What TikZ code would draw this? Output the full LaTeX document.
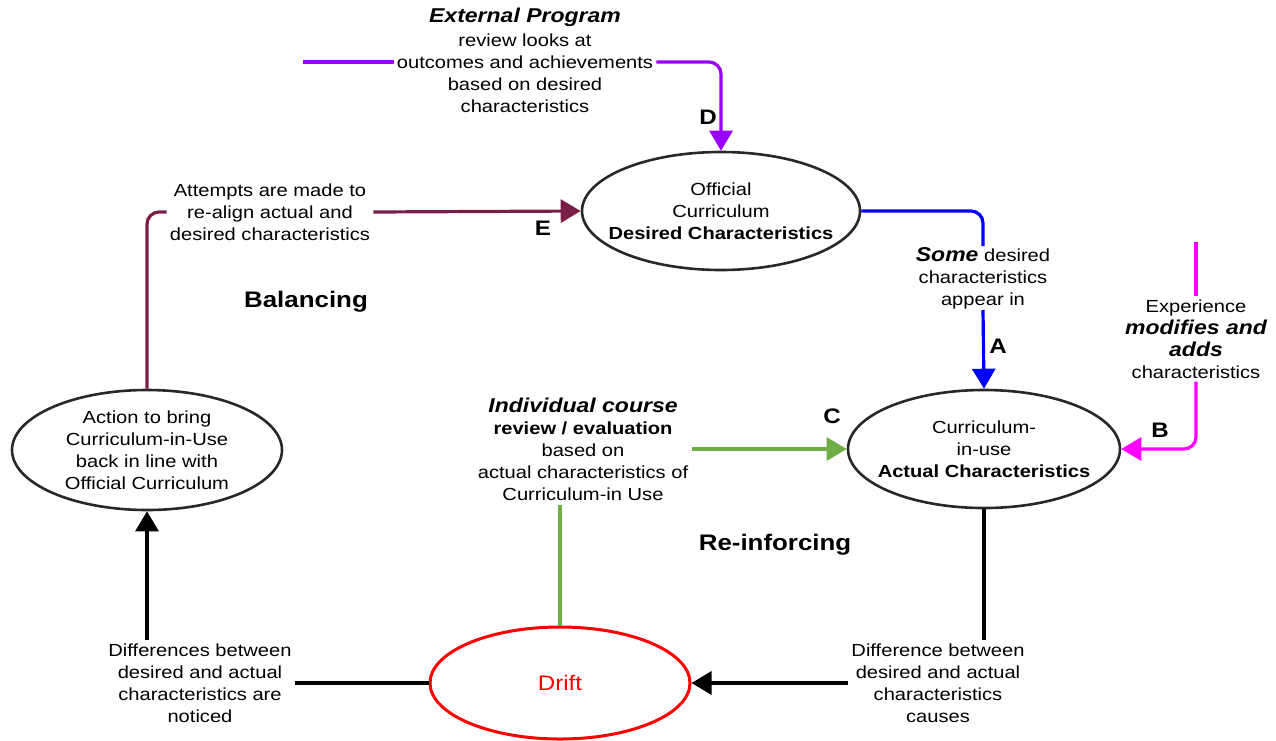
\documentclass[tikz,border=0pt]{standalone}
\usepackage{fontspec}
\setmainfont{Liberation Sans}[FakeStretch=1.15]
\usetikzlibrary{shapes.geometric,arrows.meta,calc}
\definecolor{cD}{RGB}{153,0,255}
\definecolor{cE}{RGB}{122,30,72}
\definecolor{cA}{RGB}{0,0,255}
\definecolor{cB}{RGB}{255,0,255}
\definecolor{cC}{RGB}{112,173,71}
\definecolor{cBorder}{RGB}{40,40,40}
\newcommand\emphbi[1]{{\fontsize{20}{22}\selectfont\bfseries\itshape #1}}
\tikzset{
  base/.style={font=\fontsize{17.5}{22}\selectfont},
  ell/.style={ellipse, draw=cBorder, line width=2.6pt, inner sep=0pt},
  elltext/.style={base, align=center, inner sep=0pt},
  txt/.style={base, align=center, inner sep=3pt},
  conn/.style={line width=3.2pt, rounded corners=12pt},
  tip/.style={-{Triangle[length=20pt,width=23pt]}},
  lbl/.style={font=\fontsize{21}{23}\selectfont\bfseries},
  loopname/.style={font=\fontsize{22.5}{24}\selectfont\bfseries},
}
\begin{document}
\begin{tikzpicture}[x=1pt,y=-1pt]
\useasboundingbox (0,0) rectangle (1276,740);

% ellipses
\node[ell, minimum width=278pt, minimum height=118pt,
  label={[elltext]center:{Official\\Curriculum\\\textbf{Desired Characteristics}}}] (official) at (721,211) {};
\node[ell, minimum width=272pt, minimum height=118pt,
  label={[elltext]center:{Curriculum-\\in-use\\\textbf{Actual Characteristics}}}] (ciu) at (984,449) {};
\node[ell, minimum width=270pt, minimum height=120pt,
  label={[elltext]center:{Action to bring\\Curriculum-in-Use\\back in line with\\Official Curriculum}}] (action) at (147,450) {};
\node[ellipse, draw=red, line width=3pt, minimum width=260pt, minimum height=112pt, inner sep=0pt,
  text=red, font=\fontsize{21}{24}\selectfont] (drift) at (560,683) {Drift};

% text nodes
\node[txt] (dtext) at (525,60)
  {\emphbi{External Program}\\[2pt]review looks at\\outcomes and achievements\\based on desired\\characteristics};
\node[txt] (etext) at (270,212)
  {Attempts are made to\\re-align actual and\\desired characteristics};
\node[txt, inner sep=1pt] (atext) at (983,278)
  {\emphbi{Some} desired\\characteristics\\appear in};
\node[txt] (btext) at (1196,339)
  {Experience\\\emphbi{modifies and}\\\emphbi{adds}\\characteristics};
\node[txt, inner sep=4pt] (ctext) at (583,449)
  {\emphbi{Individual course}\\\textbf{review / evaluation}\\based on\\actual characteristics of\\Curriculum-in Use};
\node[txt] (rtext) at (938,683)
  {Difference between\\desired and actual\\characteristics\\causes};
\node[txt] (ltext) at (200,683)
  {Differences between\\desired and actual\\characteristics are\\noticed};

% loop names
\node[loopname] (bal) at (306,302) {Balancing};
\node[loopname] (reinf) at (775,545) {Re-inforcing};

% free ends
\coordinate (dL) at (303,62);
\coordinate (bT) at (1196,242);

% D (purple)
\draw[conn, cD] (dL) -- (dL -| dtext.west);
\draw[conn, cD, tip] (dL -| dtext.east) -| (official.north);
\node[lbl] (labD) at (708,117) {D};

% E (maroon)
\draw[conn, cE] (action.north) |- (etext.west);
\draw[conn, cE, tip] (etext.east) -- (official.west);
\node[lbl] (labE) at (543,228) {E};

% A (blue)
\draw[conn, cA] (official.east) -| (atext.north);
\draw[conn, cA, tip] (atext.south) -- (ciu.north);
\node[lbl] (labA) at (998,346) {A};

% B (magenta)
\draw[conn, cB] (bT) -- (btext.north);
\draw[conn, cB, tip] (btext.south) |- (ciu.east);
\node[lbl] (labB) at (1160,430) {B};

% C (green)
\draw[conn, cC] (drift.north) -- (drift.north |- ctext.south);
\draw[conn, cC, tip] (ctext.east) -- (ciu.west);
\node[lbl] (labC) at (832,416) {C};

% black loop
\draw[conn, black] (ciu.south) -- (ciu.south |- rtext.north);
\draw[conn, black, tip] (rtext.west) -- (drift.east);
\draw[conn, black] (drift.west) -- (ltext.east);
\draw[conn, black, tip] (ltext.north -| action.south) -- (action.south);
\end{tikzpicture}
\end{document}
